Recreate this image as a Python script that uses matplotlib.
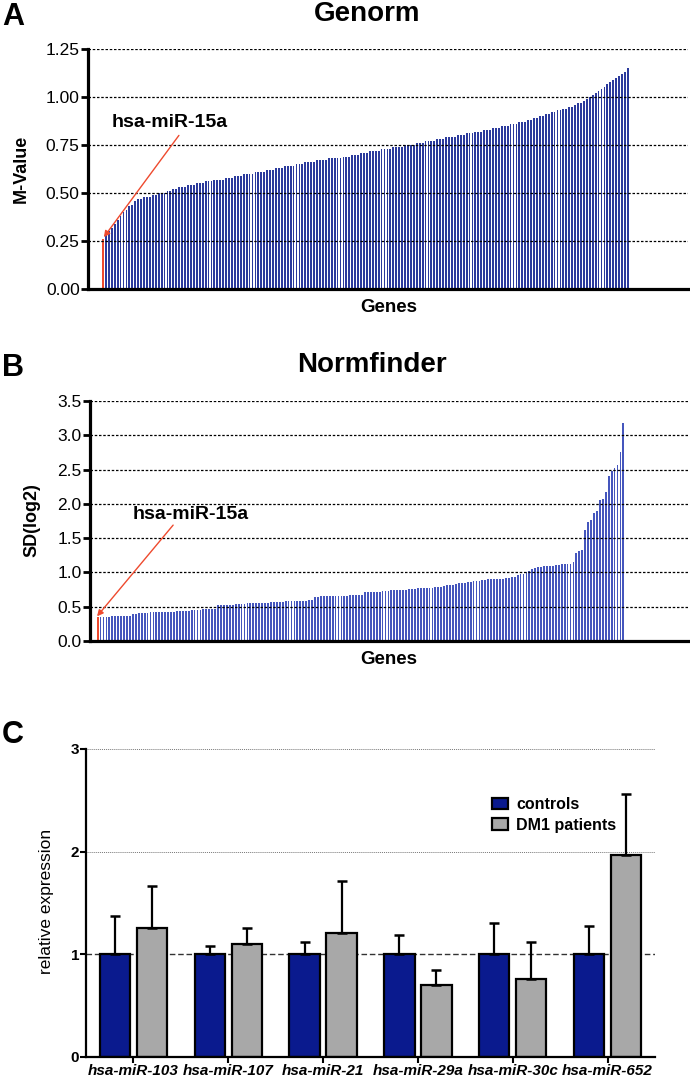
import numpy as np
import matplotlib.pyplot as plt

plt.rcParams['font.family'] = ['Liberation Sans', 'DejaVu Sans']

# Genorm M-values, sorted (first gene = hsa-miR-15a)
genorm_m = [
    0.26, 0.28, 0.30, 0.32, 0.34, 0.36, 0.38, 0.40, 0.41, 0.43,
    0.44, 0.46, 0.47, 0.47, 0.48, 0.48, 0.48, 0.49, 0.49, 0.50,
    0.50, 0.50, 0.51, 0.51, 0.52, 0.52, 0.53, 0.53, 0.53, 0.54,
    0.54, 0.54, 0.55, 0.55, 0.55, 0.56, 0.56, 0.56, 0.57, 0.57,
    0.57, 0.57, 0.58, 0.58, 0.58, 0.59, 0.59, 0.59, 0.60, 0.60,
    0.60, 0.60, 0.61, 0.61, 0.61, 0.61, 0.62, 0.62, 0.62, 0.63,
    0.63, 0.63, 0.64, 0.64, 0.64, 0.64, 0.65, 0.65, 0.65, 0.66,
    0.66, 0.66, 0.66, 0.67, 0.67, 0.67, 0.67, 0.68, 0.68, 0.68,
    0.68, 0.68, 0.69, 0.69, 0.69, 0.70, 0.70, 0.70, 0.71, 0.71,
    0.71, 0.72, 0.72, 0.72, 0.72, 0.73, 0.73, 0.73, 0.73, 0.74,
    0.74, 0.74, 0.74, 0.75, 0.75, 0.75, 0.75, 0.76, 0.76, 0.76,
    0.77, 0.77, 0.77, 0.77, 0.78, 0.78, 0.78, 0.79, 0.79, 0.79,
    0.79, 0.80, 0.80, 0.80, 0.81, 0.81, 0.81, 0.82, 0.82, 0.82,
    0.83, 0.83, 0.83, 0.84, 0.84, 0.84, 0.85, 0.85, 0.85, 0.86,
    0.86, 0.86, 0.87, 0.87, 0.87, 0.88, 0.88, 0.89, 0.89, 0.90,
    0.90, 0.91, 0.91, 0.92, 0.92, 0.93, 0.93, 0.94, 0.94, 0.95,
    0.95, 0.96, 0.97, 0.97, 0.98, 0.99, 1.00, 1.01, 1.02, 1.03,
    1.04, 1.05, 1.07, 1.08, 1.09, 1.10, 1.11, 1.12, 1.13, 1.15,
]

# Normfinder stability values SD(log2), sorted
normfinder_sd = [
    0.35, 0.35, 0.35, 0.35, 0.35, 0.36, 0.37, 0.37, 0.37, 0.37,
    0.37, 0.37, 0.39, 0.39, 0.41, 0.41, 0.41, 0.41, 0.42, 0.42,
    0.42, 0.42, 0.42, 0.43, 0.43, 0.43, 0.43, 0.44, 0.44, 0.44,
    0.44, 0.44, 0.45, 0.45, 0.45, 0.45, 0.46, 0.46, 0.46, 0.47,
    0.47, 0.52, 0.52, 0.52, 0.53, 0.53, 0.53, 0.54, 0.54, 0.54,
    0.54, 0.55, 0.55, 0.55, 0.55, 0.56, 0.56, 0.56, 0.56, 0.57,
    0.57, 0.57, 0.57, 0.57, 0.58, 0.58, 0.58, 0.58, 0.58, 0.59,
    0.59, 0.59, 0.60, 0.60, 0.64, 0.64, 0.65, 0.65, 0.65, 0.65,
    0.65, 0.65, 0.65, 0.65, 0.65, 0.65, 0.67, 0.67, 0.67, 0.67,
    0.67, 0.71, 0.71, 0.71, 0.72, 0.72, 0.72, 0.73, 0.73, 0.73,
    0.74, 0.74, 0.74, 0.75, 0.75, 0.75, 0.76, 0.76, 0.76, 0.77,
    0.77, 0.77, 0.78, 0.78, 0.78, 0.79, 0.79, 0.79, 0.80, 0.81,
    0.81, 0.82, 0.83, 0.84, 0.85, 0.85, 0.86, 0.86, 0.87, 0.88,
    0.88, 0.89, 0.89, 0.90, 0.90, 0.90, 0.90, 0.91, 0.91, 0.92,
    0.92, 0.93, 0.94, 0.96, 0.97, 0.98, 1.00, 1.02, 1.05, 1.07,
    1.08, 1.08, 1.09, 1.09, 1.10, 1.10, 1.11, 1.11, 1.12, 1.12,
    1.13, 1.13, 1.15, 1.29, 1.31, 1.33, 1.62, 1.74, 1.77, 1.87,
    1.89, 2.05, 2.07, 2.18, 2.41, 2.48, 2.52, 2.57, 2.76, 3.18,
]

# panel C: relative expression (mean, upper SEM)
mirnas = ['hsa-miR-103', 'hsa-miR-107', 'hsa-miR-21',
          'hsa-miR-29a', 'hsa-miR-30c', 'hsa-miR-652']
controls_mean = [1.00, 1.00, 1.00, 1.00, 1.00, 1.00]
controls_err = [0.37, 0.08, 0.12, 0.19, 0.31, 0.28]
dm1_mean = [1.26, 1.10, 1.21, 0.70, 0.76, 1.97]
dm1_err = [0.41, 0.16, 0.50, 0.15, 0.36, 0.59]

W, H = 690, 1080
fig = plt.figure(figsize=(W / 100, H / 100), dpi=100)


def px(x, y):
    return x / W, 1 - y / H


def axes_px(left, top, right, bottom):
    return fig.add_axes([left / W, 1 - bottom / H, (right - left) / W, (bottom - top) / H])


RED = '#ee4a2e'


def gene_panel(ax, values, face, ymax, step, fmt, xlim):
    n = len(values)
    x = np.arange(n)
    faces = [RED] + [face] * (n - 1)
    ax.bar(x, values, width=0.62, color=faces, linewidth=0, antialiased=False, zorder=2)
    ticks = np.arange(0, ymax + 1e-9, step)
    ax.set_yticks(ticks)
    ax.set_yticklabels([fmt.format(t) for t in ticks], fontsize=12.5)
    for t in ticks[1:]:
        ax.axhline(t, color='black', ls=(0, (2, 1.4)), lw=0.9, zorder=3)
    ax.set_ylim(0, ymax)
    ax.set_xlim(*xlim)
    ax.set_xticks([])
    for s in ['top', 'right']:
        ax.spines[s].set_visible(False)
    for s in ['left', 'bottom']:
        ax.spines[s].set_linewidth(2.3)
    ax.tick_params(axis='y', length=5, width=2, pad=1)


# ---- panel A
axA = axes_px(88, 49, 688, 289)
gene_panel(axA, genorm_m, '#2b3a9c', 1.25, 0.25, '{:.2f}', (-5.1, 199.5))
axA.text(22.8, 0.865, 'hsa-miR-15a', ha='center', va='center', fontsize=14, fontweight='bold')
axA.annotate('', xy=(0.3, 0.27), xytext=(25.9, 0.80),
             arrowprops=dict(arrowstyle='-|>', color=RED, lw=1.0, mutation_scale=9,
                             shrinkA=0, shrinkB=0))
fig.text(*px(2, 17), 'A', fontsize=22, fontweight='bold', ha='left', va='center')
fig.text(*px(367, 14), 'Genorm', fontsize=20, fontweight='bold', ha='center', va='center')
fig.text(*px(21, 169), 'M-Value', fontsize=13, fontweight='bold', rotation=90, ha='center', va='center')
fig.text(*px(389, 307), 'Genes', fontsize=13.5, fontweight='bold', ha='center', va='center')

# ---- panel B
axB = axes_px(90, 401, 688, 641)
gene_panel(axB, normfinder_sd, '#4556bd', 3.5, 0.5, '{:.1f}', (-2.6, 201))
axB.text(31.8, 1.84, 'hsa-miR-15a', ha='center', va='center', fontsize=14, fontweight='bold')
axB.annotate('', xy=(-0.2, 0.36), xytext=(25.7, 1.69),
             arrowprops=dict(arrowstyle='-|>', color=RED, lw=1.0, mutation_scale=9,
                             shrinkA=0, shrinkB=0))
fig.text(*px(2, 368), 'B', fontsize=22, fontweight='bold', ha='left', va='center')
fig.text(*px(372, 365), 'Normfinder', fontsize=20, fontweight='bold', ha='center', va='center')
fig.text(*px(32, 520), 'SD(log2)', fontsize=13, fontweight='bold', rotation=90, ha='center', va='center')
fig.text(*px(389, 659), 'Genes', fontsize=13.5, fontweight='bold', ha='center', va='center')

# ---- panel C
axC = axes_px(86, 749, 655, 1057)
xc = np.arange(len(mirnas))
bw, off = 0.32, 0.195
axC.bar(xc - off, controls_mean, width=bw, color='#0a1a8e', edgecolor='black', linewidth=1.6,
        zorder=2, label='controls')
axC.bar(xc + off, dm1_mean, width=bw, color='#a8a8a8', edgecolor='black', linewidth=1.6,
        zorder=2, label='DM1 patients')
zeros = np.zeros(len(mirnas))
axC.errorbar(xc - off, controls_mean, yerr=[zeros, controls_err], fmt='none', ecolor='black',
             elinewidth=1.6, capsize=3.5, capthick=1.8, zorder=3)
axC.errorbar(xc + off, dm1_mean, yerr=[zeros, dm1_err], fmt='none', ecolor='black',
             elinewidth=1.6, capsize=3.5, capthick=1.8, zorder=3)
for g in [2, 3]:
    axC.axhline(g, color='#777777', ls=(0, (1, 1)), lw=0.7, zorder=0)
axC.axhline(1, color='#333333', ls=(0, (4, 2)), lw=1.0, zorder=0)
axC.set_xlim(-0.5, 5.5)
axC.set_ylim(0, 3)
axC.set_yticks([0, 1, 2, 3])
axC.set_yticklabels(['0', '1', '2', '3'], fontsize=11, fontweight='bold')
axC.set_xticks(xc)
axC.set_xticklabels(mirnas, fontsize=11, fontweight='bold', fontstyle='italic')
axC.tick_params(axis='x', length=4, width=1.5, pad=1)
axC.tick_params(axis='y', length=4, width=1.5, pad=1)
for s in ['top', 'right']:
    axC.spines[s].set_visible(False)
for s in ['left', 'bottom']:
    axC.spines[s].set_linewidth(1.6)
axC.legend(loc='upper left', bbox_to_anchor=px(492, 797), bbox_transform=fig.transFigure,
           frameon=False, prop=dict(size=11.5, weight='bold'), handlelength=1.0,
           handleheight=0.7, handletextpad=0.5, borderpad=0, borderaxespad=0, labelspacing=0.35)
fig.text(*px(2, 735), 'C', fontsize=22, fontweight='bold', ha='left', va='center')
fig.text(*px(47, 901), 'relative expression', fontsize=12.5, rotation=90, ha='center', va='center')

fig.savefig('out.png', dpi=100)
